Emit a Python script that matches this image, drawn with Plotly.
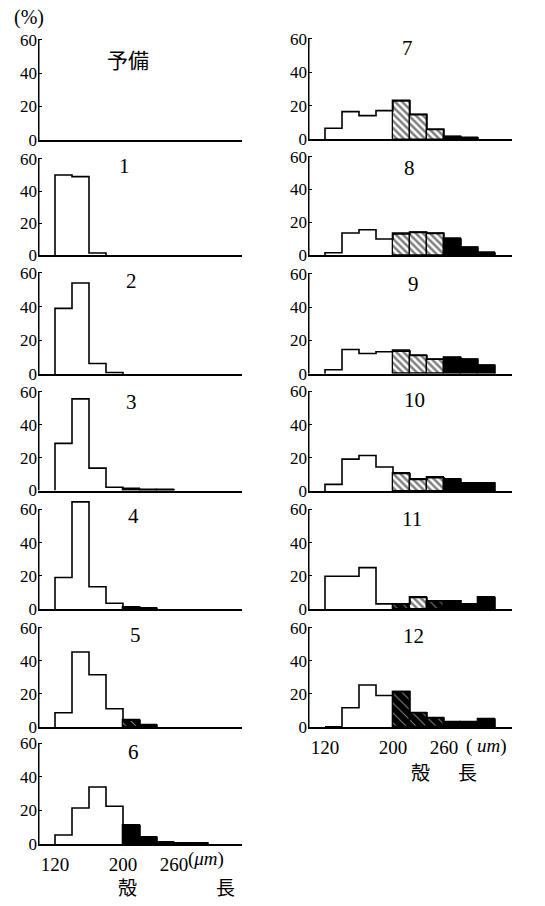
import plotly.graph_objects as go

W, H = 545, 906

# ---------------- data ----------------
bin_starts = [120, 140, 160, 180, 200, 220, 240, 260, 280, 300]
BIN_W = 20

panel_names = ["予備", "1", "2", "3", "4", "5", "6", "7", "8", "9", "10", "11", "12"]

h_pre = []
h_1 = [50, 49, 1.5]
h_2 = [39, 54, 6.3, 1]
h_3 = [28.6, 55.6, 13.6, 2, 0.8, 0.5, 0.5]
h_4 = [19, 64.5, 13.5, 3.6, 1.2, 0.6]
h_5 = [8.6, 45.4, 31.6, 11, 4, 1]
h_6 = [5.3, 21.4, 34, 22.5, 11, 4, 1, 0.6, 0.5]
h_7 = [6.7, 16.6, 14.2, 17.2, 23, 14.8, 6, 1.8, 1]
h_8 = [1.6, 13.6, 15.6, 10, 13, 14, 13.4, 10, 5, 1.4]
h_9 = [2.4, 14.6, 12.2, 13.2, 13.6, 11, 8.7, 9.7, 8.7, 5.1]
h_10 = [4, 19.2, 21.4, 14.5, 10.5, 7, 8, 7, 4.8, 4.8]
h_11 = [19.8, 19.8, 25, 3.2, 3.2, 7, 5, 5, 3, 7]
h_12 = [0, 11.6, 25.4, 19, 21.4, 8.6, 5.4, 3, 3, 4.6]

# fill type per bin: w = open, h = hatched, m = dark hatched, b = solid black
c_pre = ""
c_1 = "www"
c_2 = "wwww"
c_3 = "wwwwbbb"
c_4 = "wwwwbb"
c_5 = "wwwwmb"
c_6 = "wwwwbbbbb"
c_7 = "wwwwhhhbb"
c_8 = "wwwwhhhbbb"
c_9 = "wwwwhhhbbb"
c_10 = "wwwwhhhbbb"
c_11 = "wwwwmhmbbb"
c_12 = "wwwwmmmbbb"

heights = [h_pre, h_1, h_2, h_3, h_4, h_5, h_6, h_7, h_8, h_9, h_10, h_11, h_12]
fills = [c_pre, c_1, c_2, c_3, c_4, c_5, c_6, c_7, c_8, c_9, c_10, c_11, c_12]

y_ticks = [0, 20, 40, 60]
x_ticks = [120, 200, 260]
X_RANGE = [100, 340]
Y_TOP = 60
Y_ROOM = 66

# ---------------- layout geometry (pixels) ----------------
left_x = (38, 242)
right_x = (308, 512)
# (pixel row of 0, pixel row of 60) for each panel
left_rows = [(141.5, 40), (258.3, 160.7), (378.3, 276), (496, 396), (616, 515), (735, 635), (853.3, 751.7)]
right_rows = [(141, 39.3), (258.3, 158.3), (378, 276.7), (496.5, 395.7), (616, 515), (735, 635)]

SERIF = "Liberation Serif"
CJK = "Noto Sans CJK JP"

def px_x(p):
    return p / W

def px_y(p):
    return 1 - p / H

fig = go.Figure()
annotations = []
layout = {}

panels = []
for i, r in enumerate(left_rows):
    panels.append((left_x, r, i == len(left_rows) - 1))
for i, r in enumerate(right_rows):
    panels.append((right_x, r, i == len(right_rows) - 1))

styles = {
    "w": dict(color="white", line=dict(width=0)),
    "h": dict(color="white", line=dict(color="black", width=1.3),
              pattern=dict(shape="\\", fgcolor="black", bgcolor="white",
                           size=5, solidity=0.5, fillmode="overlay")),
    "m": dict(color="black", line=dict(color="black", width=1.3),
              pattern=dict(shape="\\", fgcolor="white", bgcolor="black",
                           size=7, solidity=0.15, fillmode="overlay")),
    "b": dict(color="black", line=dict(color="black", width=1.3)),
}

for k, ((x0, x1), (y0, y60), bottom) in enumerate(panels):
    idx = k + 1
    xa = "x" if idx == 1 else f"x{idx}"
    ya = "y" if idx == 1 else f"y{idx}"
    xkey = "xaxis" if idx == 1 else f"xaxis{idx}"
    ykey = "yaxis" if idx == 1 else f"yaxis{idx}"
    ph = y0 - y60
    layout[xkey] = dict(
        domain=[px_x(x0), px_x(x1)], range=X_RANGE, anchor=ya,
        showline=True, linecolor="black", linewidth=2, showgrid=False,
        zeroline=False, ticks="", showticklabels=bottom, ticklabelstandoff=2,
        tickvals=x_ticks, ticktext=[str(v) for v in x_ticks],
        tickfont=dict(family=SERIF, size=19, color="black"),
        fixedrange=True,
    )
    layout[ykey] = dict(
        domain=[px_y(y0), px_y(y0 - ph * Y_ROOM / Y_TOP)], range=[0, Y_ROOM], anchor=xa,
        showline=False, showgrid=False,
        zeroline=False, ticks="inside", ticklen=4, tickwidth=1.4, tickcolor="black",
        tickvals=y_ticks, ticktext=[str(v) for v in y_ticks],
        tickfont=dict(family=SERIF, size=17, color="black"),
        fixedrange=True,
    )
    # y axis line from 0 to 60
    fig.add_trace(go.Scatter(x=[X_RANGE[0], X_RANGE[0]], y=[0, Y_TOP], mode="lines",
                             line=dict(color="black", width=3),
                             xaxis=xa, yaxis=ya, showlegend=False, hoverinfo="skip"))

    hs = heights[k]
    cs = fills[k]
    for cat in "whmb":
        xs = [bin_starts[j] + BIN_W / 2 for j in range(len(hs)) if cs[j] == cat]
        ys = [hs[j] for j in range(len(hs)) if cs[j] == cat]
        if not xs:
            continue
        fig.add_trace(go.Bar(x=xs, y=ys, width=BIN_W, marker=styles[cat],
                             xaxis=xa, yaxis=ya, cliponaxis=False,
                             showlegend=False, hoverinfo="skip"))
    if hs:
        sx = [bin_starts[0], bin_starts[0]]
        sy = [0, hs[0]]
        for j in range(1, len(hs)):
            sx.append(bin_starts[j])
            sy.append(hs[j])
        sx.append(bin_starts[len(hs) - 1] + BIN_W)
        sy.append(0)
        fig.add_trace(go.Scatter(x=sx, y=sy, mode="lines",
                                 line=dict(color="black", width=1.6, shape="hv"),
                                 xaxis=xa, yaxis=ya,
                                 showlegend=False, hoverinfo="skip"))

# panel titles
title_pos = [(128, 60), (124, 168), (131, 284), (131, 406), (133, 522), (135, 642), (133, 760),
             (407, 49), (409, 170), (413, 287), (414, 404), (412, 525), (413, 643)]
for name, (tx, ty) in zip(panel_names, title_pos):
    annotations.append(dict(
        x=px_x(tx), y=px_y(ty), xref="paper", yref="paper", text=name, showarrow=False,
        xanchor="center", yanchor="middle",
        font=dict(family=CJK if name == "予備" else SERIF, size=21, color="black")))

# unit labels
annotations.append(dict(x=px_x(12), y=px_y(18), xref="paper", yref="paper", text="(%)",
                        showarrow=False, xanchor="left", yanchor="middle",
                        font=dict(family=SERIF, size=20, color="black")))
annotations.append(dict(x=px_x(186), y=px_y(869), xref="paper", yref="paper",
                        text="(<i>μm</i>)", showarrow=False, xanchor="left", yanchor="middle",
                        font=dict(family=SERIF, size=19, color="black")))
annotations.append(dict(x=px_x(464), y=px_y(754), xref="paper", yref="paper",
                        text="( <i>um</i>)", showarrow=False, xanchor="left", yanchor="middle",
                        font=dict(family=SERIF, size=19, color="black")))
for txt, tx, ty in [("殻", 127, 896), ("長", 225, 896), ("殻", 420, 780), ("長", 467, 780)]:
    annotations.append(dict(x=px_x(tx), y=px_y(ty), xref="paper", yref="paper", text=txt,
                            showarrow=False, xanchor="center", yanchor="middle",
                            font=dict(family=CJK, size=19, color="black")))

fig.update_layout(
    width=W, height=H, margin=dict(l=0, r=0, t=0, b=0, pad=0),
    paper_bgcolor="white", plot_bgcolor="rgba(0,0,0,0)",
    barmode="overlay", bargap=0, showlegend=False,
    annotations=annotations, **layout,
)

fig.write_html("out.html", config={"displayModeBar": False},
               post_script="document.body.style.margin='0';")
